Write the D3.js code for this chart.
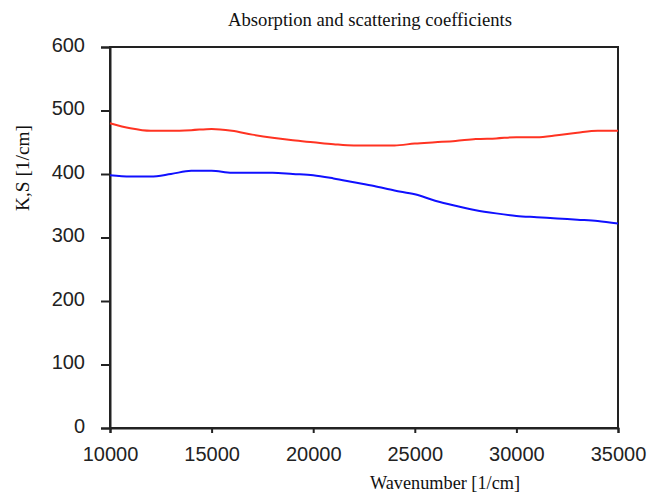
<!DOCTYPE html>
<html>
<head>
<meta charset="utf-8">
<script src="https://cdn.jsdelivr.net/npm/d3@7"></script>
<style>
  html, body { margin: 0; padding: 0; background: #fff; }
  svg { display: block; }
</style>
</head>
<body>
<svg id="chart" width="650" height="499"></svg>
<script>
// ---- data ----
const wavenumbers = [10000, 11000, 12000, 13000, 14000, 15000, 16000, 17000, 18000, 19000,
  20000, 21000, 22000, 23000, 24000, 25000, 26000, 27000, 28000, 29000,
  30000, 31000, 32000, 33000, 34000, 35000];
const scattering = [480, 472, 468, 468, 469, 471, 468, 462, 457, 453,
  450, 447, 445, 445, 445, 448, 450, 452, 455, 456,
  458, 458, 461, 465, 468, 468];
const absorption = [398, 396, 396, 400, 405, 405, 402, 402, 402, 400,
  398, 393, 387, 381, 374, 368, 358, 350, 343, 338,
  334, 332, 330, 328, 326, 322];
const xTicks = [10000, 15000, 20000, 25000, 30000, 35000];
const yTicks = [0, 100, 200, 300, 400, 500, 600];
const titleText = "Absorption and scattering coefficients";
const xLabel = "Wavenumber [1/cm]";
const yLabel = "K,S [1/cm]";

// ---- layout ----
const svg = d3.select("#chart");
const L = 110, R = 618, T = 47, B = 428;
const x = d3.scaleLinear().domain([10000, 35000]).range([L, R]);
const y = d3.scaleLinear().domain([0, 600]).range([B, T]);

const tickFont = "'Liberation Sans', Arial, sans-serif";
const serifFont = "'Liberation Serif', 'Times New Roman', serif";

// frame
svg.append("rect").attr("x", L).attr("y", T).attr("width", R - L).attr("height", B - T)
  .attr("fill", "none").attr("stroke", "#222").attr("stroke-width", 2);

// axes
const xAxis = d3.axisBottom(x).tickValues(xTicks).tickSize(5).tickPadding(14).tickFormat(d3.format("d"));
const gx = svg.append("g").attr("transform", `translate(0,${B})`).call(xAxis);
gx.select(".domain").attr("stroke", "#222").attr("stroke-width", 2);
gx.selectAll(".tick line").attr("stroke", "#222").attr("stroke-width", 2);
gx.selectAll(".tick text").attr("font-family", tickFont).attr("font-size", 20)
  .attr("font-weight", 300).attr("fill", "#222");

const yAxis = d3.axisLeft(y).tickValues(yTicks).tickSize(9).tickPadding(16).tickFormat(d3.format("d"));
const gy = svg.append("g").attr("transform", `translate(${L},0)`).call(yAxis);
gy.select(".domain").attr("stroke", "#222").attr("stroke-width", 2);
gy.selectAll(".tick line").attr("stroke", "#222").attr("stroke-width", 2);
gy.selectAll(".tick text").attr("font-family", tickFont).attr("font-size", 20)
  .attr("font-weight", 300).attr("fill", "#222").attr("dy", "0.22em");

// lines
const line = d3.line().x((d, i) => x(wavenumbers[i])).y(d => y(d)).curve(d3.curveMonotoneX);
svg.append("path").datum(scattering).attr("d", line)
  .attr("fill", "none").attr("stroke", "#ff3322").attr("stroke-width", 2);
svg.append("path").datum(absorption).attr("d", line)
  .attr("fill", "none").attr("stroke", "#1010ff").attr("stroke-width", 2);

// title & labels
svg.append("text").attr("x", 370).attr("y", 26).attr("text-anchor", "middle")
  .attr("font-family", serifFont).attr("font-size", 18).attr("fill", "#111")
  .attr("textLength", 284).attr("lengthAdjust", "spacingAndGlyphs").text(titleText);
svg.append("text").attr("x", 445).attr("y", 489).attr("text-anchor", "middle")
  .attr("font-family", serifFont).attr("font-size", 19).attr("fill", "#111")
  .attr("textLength", 150).attr("lengthAdjust", "spacingAndGlyphs").text(xLabel);
svg.append("text").attr("transform", "translate(29,168) rotate(-90)").attr("text-anchor", "middle")
  .attr("font-family", serifFont).attr("font-size", 19).attr("fill", "#111")
  .attr("textLength", 86).attr("lengthAdjust", "spacingAndGlyphs").text(yLabel);
</script>
</body>
</html>
